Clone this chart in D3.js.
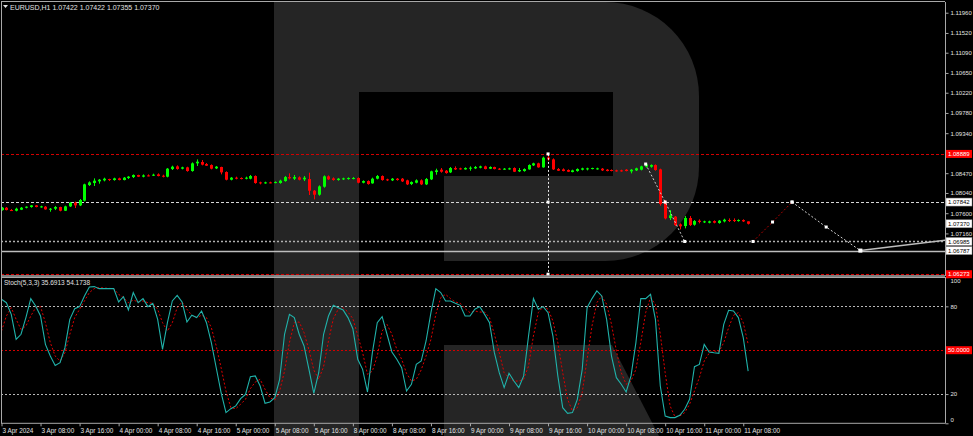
<!DOCTYPE html>
<html><head><meta charset="utf-8">
<script src="https://cdn.jsdelivr.net/npm/d3@7"></script>
<style>html,body{margin:0;padding:0;background:#000;overflow:hidden}svg{display:block}</style>
</head><body><svg id="c" width="973" height="436"></svg>
<script>
// ---------- DATA ----------
const chartTitle = "EURUSD,H1  1.07422 1.07422 1.07355 1.07370";
const stochTitle = "Stoch(5,3,3) 35.6913 54.1738";
const timeLabels = ["3 Apr 2024","3 Apr 08:00","3 Apr 16:00","4 Apr 00:00","4 Apr 08:00","4 Apr 16:00","5 Apr 00:00","5 Apr 08:00","5 Apr 16:00","8 Apr 00:00","8 Apr 08:00","8 Apr 16:00","9 Apr 00:00","9 Apr 08:00","9 Apr 16:00","10 Apr 00:00","10 Apr 08:00","10 Apr 16:00","11 Apr 00:00","11 Apr 08:00"];
const timeLabelBars = [0,8,16,24,32,40,48,56,64,72,80,88,96,104,112,120,128,136,144,152];
const priceTicks = [1.11960,1.11520,1.11090,1.10650,1.10220,1.09780,1.09340,1.08470,1.08040,1.07600,1.07160];
const stochTicks = [100,80,20,0];
const stochLevels = [80,50,20];

const opens = [1.07668,1.07719,1.07668,1.07654,1.07676,1.07719,1.07734,1.07770,1.07734,1.07741,
1.07676,1.07697,1.07734,1.07654,1.07748,1.07828,1.07770,1.07872,1.08212,1.08256,
1.08292,1.08314,1.08343,1.08321,1.08357,1.08321,1.08365,1.08386,1.08430,1.08394,
1.08422,1.08415,1.08444,1.08415,1.08394,1.08560,1.08618,1.08568,1.08597,1.08517,
1.08684,1.08713,1.08669,1.08647,1.08575,1.08604,1.08495,1.08328,1.08372,1.08365,
1.08350,1.08350,1.08408,1.08270,1.08256,1.08270,1.08256,1.08256,1.08299,1.08386,
1.08350,1.08379,1.08336,1.08343,1.08089,1.08002,1.08176,1.08401,1.08357,1.08321,
1.08336,1.08343,1.08350,1.08365,1.08263,1.08299,1.08249,1.08350,1.08408,1.08336,
1.08314,1.08350,1.08350,1.08314,1.08234,1.08263,1.08314,1.08227,1.08336,1.08495,
1.08546,1.08524,1.08488,1.08582,1.08575,1.08553,1.08568,1.08575,1.08589,1.08618,
1.08568,1.08604,1.08568,1.08553,1.08553,1.08582,1.08510,1.08517,1.08553,1.08640,
1.08684,1.08597,1.08814,1.08770,1.08560,1.08553,1.08539,1.08495,1.08517,1.08546,
1.08553,1.08568,1.08560,1.08568,1.08546,1.08539,1.08531,1.08531,1.08546,1.08510,
1.08531,1.08546,1.08611,1.08611,1.08647,1.08553,1.07828,1.07495,1.07524,1.07357,
1.07321,1.07495,1.07350,1.07437,1.07400,1.07393,1.07429,1.07386,1.07422,1.07451,
1.07451,1.07429,1.07451,1.07422];
const highs = [1.07734,1.07734,1.07690,1.07719,1.07734,1.07748,1.07777,1.07777,1.07763,1.07755,
1.07712,1.07755,1.07741,1.07763,1.07843,1.07850,1.07908,1.08241,1.08292,1.08357,
1.08343,1.08372,1.08350,1.08372,1.08372,1.08386,1.08408,1.08444,1.08437,1.08444,
1.08444,1.08459,1.08466,1.08437,1.08582,1.08633,1.08640,1.08611,1.08611,1.08705,
1.08770,1.08756,1.08691,1.08662,1.08626,1.08611,1.08510,1.08386,1.08394,1.08379,
1.08394,1.08430,1.08422,1.08285,1.08285,1.08285,1.08292,1.08328,1.08408,1.08466,
1.08430,1.08401,1.08408,1.08481,1.08104,1.08205,1.08422,1.08422,1.08379,1.08365,
1.08372,1.08379,1.08386,1.08379,1.08314,1.08314,1.08372,1.08430,1.08422,1.08350,
1.08365,1.08365,1.08365,1.08328,1.08292,1.08336,1.08336,1.08365,1.08524,1.08568,
1.08582,1.08539,1.08604,1.08618,1.08589,1.08597,1.08618,1.08626,1.08633,1.08633,
1.08618,1.08611,1.08582,1.08582,1.08589,1.08597,1.08582,1.08575,1.08662,1.08698,
1.08698,1.08829,1.08889,1.08792,1.08582,1.08575,1.08553,1.08546,1.08575,1.08589,
1.08589,1.08589,1.08589,1.08582,1.08560,1.08553,1.08546,1.08546,1.08560,1.08560,
1.08589,1.08633,1.08676,1.08662,1.08662,1.08568,1.07886,1.07668,1.07538,1.07379,
1.07538,1.07538,1.07451,1.07466,1.07437,1.07437,1.07444,1.07451,1.07480,1.07487,
1.07487,1.07466,1.07466,1.07422];
const lows = [1.07654,1.07661,1.07647,1.07640,1.07668,1.07705,1.07719,1.07727,1.07719,1.07676,
1.07632,1.07668,1.07640,1.07647,1.07734,1.07712,1.07755,1.07857,1.08191,1.08191,
1.08241,1.08292,1.08299,1.08307,1.08314,1.08314,1.08343,1.08365,1.08386,1.08379,
1.08401,1.08408,1.08401,1.08379,1.08379,1.08539,1.08546,1.08553,1.08502,1.08502,
1.08626,1.08640,1.08626,1.08553,1.08560,1.08444,1.08314,1.08314,1.08336,1.08336,
1.08336,1.08336,1.08241,1.08227,1.08241,1.08249,1.08249,1.08241,1.08285,1.08336,
1.08321,1.08314,1.08299,1.07995,1.07901,1.07980,1.08154,1.08321,1.08307,1.08307,
1.08321,1.08328,1.08336,1.08249,1.08249,1.08220,1.08241,1.08336,1.08307,1.08299,
1.08299,1.08307,1.08278,1.08212,1.08212,1.08249,1.08212,1.08212,1.08321,1.08437,
1.08481,1.08459,1.08473,1.08539,1.08546,1.08546,1.08524,1.08560,1.08575,1.08553,
1.08560,1.08553,1.08539,1.08546,1.08546,1.08495,1.08495,1.08502,1.08546,1.08626,
1.08589,1.08589,1.08742,1.08539,1.08517,1.08510,1.08495,1.08488,1.08502,1.08531,
1.08531,1.08553,1.08546,1.08517,1.08510,1.08510,1.08502,1.08502,1.08510,1.08466,
1.08517,1.08531,1.08589,1.08589,1.08524,1.07763,1.07466,1.07451,1.07321,1.07248,
1.07270,1.07321,1.07328,1.07379,1.07386,1.07379,1.07379,1.07372,1.07400,1.07408,
1.07408,1.07415,1.07408,1.07355];
const closes = [1.07719,1.07668,1.07654,1.07697,1.07719,1.07741,1.07770,1.07734,1.07748,1.07683,
1.07697,1.07734,1.07654,1.07748,1.07828,1.07770,1.07886,1.08227,1.08270,1.08307,
1.08328,1.08350,1.08321,1.08357,1.08321,1.08372,1.08394,1.08430,1.08394,1.08422,
1.08408,1.08437,1.08408,1.08394,1.08568,1.08611,1.08560,1.08597,1.08517,1.08684,
1.08720,1.08655,1.08633,1.08568,1.08611,1.08488,1.08328,1.08372,1.08357,1.08350,
1.08372,1.08408,1.08256,1.08249,1.08270,1.08256,1.08278,1.08307,1.08386,1.08357,
1.08386,1.08328,1.08372,1.08089,1.08002,1.08183,1.08401,1.08336,1.08321,1.08350,
1.08357,1.08365,1.08365,1.08263,1.08299,1.08234,1.08350,1.08408,1.08321,1.08314,
1.08350,1.08321,1.08292,1.08227,1.08278,1.08314,1.08227,1.08343,1.08510,1.08531,
1.08502,1.08473,1.08582,1.08553,1.08553,1.08582,1.08589,1.08604,1.08618,1.08560,
1.08604,1.08560,1.08546,1.08568,1.08575,1.08502,1.08539,1.08560,1.08647,1.08684,
1.08597,1.08807,1.08770,1.08553,1.08524,1.08517,1.08502,1.08531,1.08560,1.08575,
1.08575,1.08582,1.08575,1.08531,1.08517,1.08524,1.08510,1.08517,1.08517,1.08546,
1.08575,1.08618,1.08662,1.08647,1.08539,1.07799,1.07487,1.07553,1.07342,1.07314,
1.07495,1.07342,1.07429,1.07408,1.07422,1.07422,1.07393,1.07437,1.07458,1.07429,
1.07429,1.07451,1.07422,1.07370];

const stochK = [84.8,82.5,74.5,57.4,60.9,72.3,85.3,80.2,73.4,54.0,
46.0,39.6,41.5,51.7,71.1,78.4,79.8,87.1,93.2,93.5,
92.1,92.1,92.1,92.1,83.0,86.6,77.5,89.4,82.5,85.3,
79.8,82.1,71.1,50.6,68.8,83.7,87.5,83.0,69.3,73.9,
72.3,76.8,68.8,55.2,38.0,21.0,7.3,10.0,11.9,16.9,
19.8,31.9,32.4,25.5,13.7,14.6,17.5,30.1,60.9,74.5,
72.3,60.9,52.9,36.9,20.5,34.6,60.9,73.4,80.7,79.1,
77.5,72.3,64.7,43.8,36.9,21.4,48.3,68.8,72.9,60.9,
48.8,43.8,38.0,22.1,26.7,40.3,42.6,56.3,75.7,92.1,
89.4,83.7,83.7,82.1,80.7,73.4,73.4,78.0,79.8,74.5,
68.8,48.3,34.6,24.4,34.2,28.9,24.4,32.4,59.7,85.3,
78.0,79.8,75.7,59.7,32.4,10.7,6.8,7.3,16.4,36.9,
79.1,85.3,90.5,87.1,71.1,46.0,31.2,26.7,21.4,32.4,
55.2,85.3,85.3,88.2,71.1,25.5,5.0,3.9,3.9,5.5,
9.6,16.4,38.7,40.3,54.0,48.8,48.3,47.9,67.7,77.3,
76.8,72.3,58.6,35.69];
const stochD = [63.1,73.4,79.1,71.1,64.2,66.5,73.4,79.1,79.8,68.8,
55.2,46.0,42.6,48.3,60.9,72.3,78.0,83.7,89.4,92.1,
92.8,92.5,92.3,92.1,88.2,85.9,82.5,84.3,83.0,83.7,
82.5,82.1,78.0,68.8,63.1,68.8,79.1,83.0,78.0,73.9,
72.3,73.9,72.3,65.4,52.9,38.0,22.1,10.7,10.0,13.0,
16.4,23.7,28.2,30.1,23.3,17.5,15.9,22.1,35.7,55.2,
68.8,69.3,62.0,50.1,36.5,30.1,38.7,56.3,71.6,78.0,
79.1,76.1,71.6,60.2,48.3,33.5,35.7,46.0,63.1,67.7,
60.9,50.6,43.8,34.2,28.9,30.1,36.5,46.0,57.4,74.5,
85.9,88.2,85.3,83.0,82.1,78.4,75.7,76.8,76.1,76.1,
72.3,60.9,48.3,34.6,31.2,28.9,28.9,30.1,39.2,59.7,
75.7,79.8,78.0,70.0,55.2,34.6,16.4,8.4,10.7,21.0,
43.8,66.5,82.5,87.1,81.4,67.7,49.5,34.6,26.7,28.9,
36.9,55.2,75.7,85.9,81.4,60.9,34.6,11.9,4.5,5.0,
7.3,13.0,22.1,31.2,42.6,47.9,49.5,48.8,55.2,65.4,
73.9,75.7,68.8,54.17];

// horizontal price levels drawn on the chart
const levelPrices = [1.08889, 1.07842, 1.06985, 1.06787, 1.06273];
const levelStyles = ["red", "white", "gray", "solid", "red"];
const currentPrice = 1.07370;
// analysis drawings (bar index, price)
const vLineBar = 112;
const vLinePrices = [1.08889, 1.07842, 1.06273];
const pathABars = [132, 136, 140], pathAPrices = [1.08669, 1.07842, 1.06985];
const pathBBars = [154, 158, 162], pathBPrices = [1.06985, 1.07408, 1.07842];
const pathCBars = [162, 169, 176], pathCPrices = [1.07842, 1.07299, 1.06787];
const trendBars = [176, 194], trendPrices = [1.06787, 1.07021];

// ---------- LAYOUT ----------
const svg = d3.select("#c");
const W = 973, H = 436;
const L = 1, R = 945, mainTop = 2, mainBot = 276, stTop = 277, stBot = 423.3;
const FONT = "'Liberation Sans', Arial, sans-serif";
const axisCol = "#a8a8a8", textCol = "#e2e2e2";

const x = d3.scaleLinear().domain([0, 152]).range([1.5, 1.5 + 152 * 4.88]);
const y = d3.scaleLinear().domain([1.06234, 1.12193]).range([mainBot, mainTop]);
const ys = d3.scaleLinear().domain([0, 100]).range([stBot, stTop + 0.1]);

svg.append("rect").attr("width", W).attr("height", H).attr("fill", "#000");

// ---------- watermark logo ----------
const logo = svg.append("g").attr("fill", "#252525");
logo.append("path").attr("d", "M274,2 H605 A94,94 0 0 1 699,96 V167 A94,94 0 0 1 605,261 H274 Z");
logo.append("rect").attr("x", 359).attr("y", 92).attr("width", 254).attr("height", 84).attr("fill", "#000");
logo.append("rect").attr("x", 359).attr("y", 176).attr("width", 85).attr("height", 85).attr("fill", "#000");
logo.append("rect").attr("x", 274).attr("y", 2).attr("width", 85).attr("height", 434);
logo.append("path").attr("d", "M444,345 H612 L659,436 H444 Z");

// clip paths
const defs = svg.append("defs");
defs.append("clipPath").attr("id", "cm").append("rect").attr("x", L).attr("y", mainTop).attr("width", R - L).attr("height", mainBot - mainTop);
defs.append("clipPath").attr("id", "cs").append("rect").attr("x", L).attr("y", stTop).attr("width", R - L).attr("height", stBot - stTop);

const gm = svg.append("g").attr("clip-path", "url(#cm)");
const gs = svg.append("g").attr("clip-path", "url(#cs)");

// ---------- level lines ----------
const lvlStroke = {red: "#d40000", white: "#d8d8d8", gray: "#b0b0b0", solid: "#bdbdbd"};
const lvlDash = {red: "3,2", white: "3,2", gray: "2,2", solid: null};
levelPrices.forEach((p, i) => {
  const s = levelStyles[i];
  gm.append("line").attr("x1", L).attr("x2", R)
    .attr("y1", Math.round(y(p)) + 0.5).attr("y2", Math.round(y(p)) + 0.5)
    .attr("stroke", lvlStroke[s]).attr("stroke-width", s === "solid" ? 1.5 : (s === "gray" ? 1.3 : 1))
    .attr("stroke-dasharray", lvlDash[s]);
});

// ---------- candles ----------
const bars = d3.range(opens.length);
const cg = gm.append("g");
bars.forEach(i => {
  const cx = Math.round(x(i));
  const up = closes[i] >= opens[i];
  const col = up ? "#00ff00" : "#ff0000";
  cg.append("line").attr("x1", cx + 0.5).attr("x2", cx + 0.5)
    .attr("y1", y(highs[i])).attr("y2", y(lows[i])).attr("stroke", col).attr("stroke-width", 1);
  const top = y(Math.max(opens[i], closes[i])), bot = y(Math.min(opens[i], closes[i]));
  cg.append("rect").attr("x", cx - 1).attr("width", 3)
    .attr("y", top).attr("height", Math.max(1, bot - top)).attr("fill", col);
});

// ---------- analysis drawings ----------
const dg = gm.append("g");
const vx = Math.round(x(vLineBar)) + 0.5;
dg.append("line").attr("x1", vx).attr("x2", vx).attr("y1", y(vLinePrices[0])).attr("y2", y(vLinePrices[2]))
  .attr("stroke", "#e8e8e8").attr("stroke-dasharray", "2,2");
const ln = d3.line().x(d => x(d[0])).y(d => y(d[1]));
const zipPts = (b, p) => b.map((v, i) => [v, p[i]]);
dg.append("path").attr("d", ln(zipPts(pathABars, pathAPrices))).attr("fill", "none").attr("stroke", "#cfcfcf").attr("stroke-dasharray", "2,2");
dg.append("path").attr("d", ln(zipPts(pathBBars, pathBPrices))).attr("fill", "none").attr("stroke", "#b00000").attr("stroke-dasharray", "2,2");
dg.append("path").attr("d", ln(zipPts(pathCBars, pathCPrices))).attr("fill", "none").attr("stroke", "#cfcfcf").attr("stroke-dasharray", "2,2");
dg.append("path").attr("d", ln(zipPts(trendBars, trendPrices))).attr("fill", "none").attr("stroke", "#bdbdbd").attr("stroke-width", 1.5);
const markers = [].concat(
  vLinePrices.map(p => [vLineBar, p]),
  zipPts(pathABars, pathAPrices), zipPts(pathBBars, pathBPrices), zipPts(pathCBars, pathCPrices));
dg.selectAll("rect.mk").data(markers).join("rect").attr("class", "mk")
  .attr("x", d => x(d[0]) - 1.5).attr("y", d => y(d[1]) - 1.5).attr("width", 3).attr("height", 3).attr("fill", "#ffffff");
dg.append("rect").attr("x", x(176) - 2).attr("y", y(1.06787) - 2).attr("width", 4).attr("height", 4).attr("fill", "#fff");

// ---------- stochastic ----------
stochLevels.forEach(v => {
  gs.append("line").attr("x1", L).attr("x2", R).attr("y1", Math.round(ys(v)) + 0.5).attr("y2", Math.round(ys(v)) + 0.5)
    .attr("stroke", v === 50 ? "#d40000" : "#b8b8b8").attr("stroke-dasharray", "2,2");
});
const sl = (arr) => d3.line().x((d, i) => x(i)).y(d => ys(d))(arr);
gs.append("path").attr("d", sl(stochD)).attr("fill", "none").attr("stroke", "#e00000").attr("stroke-width", 1).attr("stroke-dasharray", "2,2");
gs.append("path").attr("d", sl(stochK)).attr("fill", "none").attr("stroke", "#20b2aa").attr("stroke-width", 1.1);

// ---------- frames ----------
const fr = svg.append("g").attr("stroke", axisCol).attr("fill", "none");
fr.append("line").attr("x1", L).attr("x2", R).attr("y1", 1.5).attr("y2", 1.5);
fr.append("line").attr("x1", 1.5).attr("x2", 1.5).attr("y1", 1.5).attr("y2", stBot);
fr.append("line").attr("x1", L).attr("x2", R).attr("y1", 276).attr("y2", 276).attr("stroke-width", 1.5);
fr.append("line").attr("x1", L).attr("x2", R).attr("y1", 277.5).attr("y2", 277.5);

// ---------- axes ----------
function styleAxis(g, fs) {
  g.selectAll("path.domain").attr("stroke", axisCol);
  g.selectAll(".tick line").attr("stroke", axisCol);
  g.selectAll(".tick text").attr("fill", textCol).style("font", fs + "px " + FONT);
}
const pAxis = svg.append("g").attr("transform", `translate(${R + 0.5},0)`)
  .call(d3.axisRight(y).tickValues(priceTicks).tickFormat(d3.format(".5f")).tickSize(3).tickPadding(2).tickSizeOuter(0));
styleAxis(pAxis, 6);
pAxis.select("path.domain").attr("d", `M0,${mainTop}V${mainBot}`);

const sAxis = svg.append("g").attr("transform", `translate(${R + 0.5},0)`)
  .call(d3.axisRight(ys).tickValues(stochTicks).tickFormat(d3.format("d")).tickSize(3).tickPadding(2).tickSizeOuter(0));
styleAxis(sAxis, 6);
sAxis.select("path.domain").attr("d", `M0,${stTop}V${stBot}`);
sAxis.selectAll(".tick").filter(d => d === 100).select("text").attr("dy", "0.95em");
sAxis.selectAll(".tick").filter(d => d === 0).select("text").attr("dy", "-0.3em");

const tAxis = svg.append("g").attr("transform", `translate(0,${stBot})`)
  .call(d3.axisBottom(x).tickValues(timeLabelBars).tickFormat((d, i) => timeLabels[i]).tickSize(3).tickPadding(2).tickSizeOuter(0));
styleAxis(tAxis, 6.4);
tAxis.select("path.domain").attr("d", `M${L},0H${R + 0.5}`);
tAxis.selectAll(".tick text").attr("text-anchor", "start").attr("x", 0.5);

// ---------- price label boxes ----------
function labelBox(yy, txt, fill, tcol) {
  const g = svg.append("g");
  g.append("rect").attr("x", 946).attr("y", yy - 4).attr("width", 26).attr("height", 8)
    .attr("fill", fill).attr("stroke", fill === "#ffffff" ? "#888" : "none").attr("stroke-width", 0.5);
  g.append("text").attr("x", 948).attr("y", yy + 2.2).attr("fill", tcol).style("font", "6px " + FONT).text(txt);
}
levelPrices.forEach((p, i) => {
  const red = levelStyles[i] === "red";
  labelBox(y(p), d3.format(".5f")(p), red ? "#ff0000" : "#ffffff", red ? "#ffffff" : "#000000");
});
labelBox(y(currentPrice), d3.format(".5f")(currentPrice), "#ffffff", "#000000");
labelBox(ys(50), d3.format(".4f")(50), "#ff0000", "#ffffff");

// ---------- titles ----------
svg.append("path").attr("d", "M3,5 L8,5 L5.5,8 Z").attr("fill", textCol);
svg.append("text").attr("x", 10).attr("y", 9.5).attr("fill", textCol).style("font", "7px " + FONT).text(chartTitle);
svg.append("text").attr("x", 4).attr("y", 285).attr("fill", textCol).style("font", "6.5px " + FONT).text(stochTitle);
</script></body></html>
